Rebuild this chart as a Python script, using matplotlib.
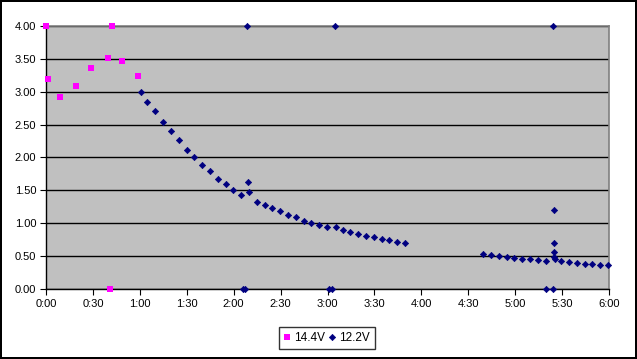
import matplotlib.pyplot as plt
from matplotlib.ticker import FuncFormatter, MultipleLocator

# time in minutes, value
v144_x = [0, 1.3, 9, 19, 29, 39.4, 42, 48.6, 58.6, 41]
v144_y = [4.00, 3.20, 2.92, 3.09, 3.36, 3.51, 4.00, 3.47, 3.24, 0.00]

v122_x = [61, 64.8, 69.9, 75, 80, 85.2, 90.3, 94.8, 99.9, 105, 110.2, 115.3,
          119.8, 124.9, 129.4, 130, 135.1, 140.2, 144.7, 149.8, 155, 160,
          165.2, 169.6, 174.7, 179.9, 185.6, 190.1, 194.6, 199.7, 204.8, 209.9,
          215, 219.5, 224.6, 229.7,
          126, 127.5, 181, 183, 128.7, 185, 324.4,
          279.6, 284.7, 289.8, 294.9, 299.4, 304.5, 309.7, 314.8, 319.9,
          325, 325, 325, 325, 325.7, 329.5, 334.6, 339.7, 344.8, 349.3, 354.4,
          359.5, 319.9, 324.4]
v122_y = [2.99, 2.85, 2.70, 2.54, 2.40, 2.26, 2.12, 2.00, 1.88, 1.79, 1.68, 1.59,
          1.50, 1.43, 1.62, 1.47, 1.33, 1.27, 1.23, 1.18, 1.12, 1.09,
          1.03, 1.00, 0.97, 0.94, 0.95, 0.89, 0.86, 0.83, 0.80, 0.79,
          0.76, 0.74, 0.71, 0.70,
          0.00, 0.00, 0.00, 0.00, 4.00, 4.00, 4.00,
          0.53, 0.51, 0.50, 0.48, 0.47, 0.45, 0.45, 0.44, 0.42,
          1.20, 0.70, 0.56, 0.48, 0.45, 0.42, 0.41, 0.39, 0.38, 0.38, 0.36,
          0.36, 0.00, 0.00]

plt.rcParams["font.family"] = ["Liberation Sans", "DejaVu Sans"]
plt.rcParams["font.size"] = 8

fig = plt.figure(figsize=(6.37, 3.59), dpi=100)
fig.patch.set_facecolor("white")
fig.patch.set_edgecolor("black")
fig.patch.set_linewidth(1.5)

W, H = 637, 359
ax = fig.add_axes([46 / W, 1 - 289 / H, (609 - 46) / W, (289 - 26) / H])
ax.set_facecolor("#C0C0C0")

ax.set_xlim(0, 360)
ax.set_ylim(0, 4)
ax.xaxis.set_major_locator(MultipleLocator(30))
ax.yaxis.set_major_locator(MultipleLocator(0.5))
ax.xaxis.set_major_formatter(FuncFormatter(lambda v, p: f"{int(v) // 60}:{int(v) % 60:02d}"))
ax.yaxis.set_major_formatter(FuncFormatter(lambda v, p: f"{v:.2f}"))
ax.tick_params(direction="out", length=4, width=0.8, color="black", pad=3)

ax.grid(axis="y", color="black", linewidth=1)
ax.set_axisbelow(True)
for side in ["top", "right"]:
    ax.spines[side].set_color("#808080")
    ax.spines[side].set_linewidth(1.2)
for side in ["left", "bottom"]:
    ax.spines[side].set_color("black")
    ax.spines[side].set_linewidth(1)

ax.plot(v144_x, v144_y, "s", color="#FF00FF", markersize=4.4, markeredgewidth=0,
        label="14.4V", clip_on=False, zorder=3)
ax.plot(v122_x, v122_y, "D", color="#000080", markersize=3.2, markeredgewidth=0.5,
        label="12.2V", clip_on=False, zorder=3)

leg = ax.legend(loc="center", bbox_to_anchor=(327 / W, 1 - 338 / H),
                bbox_transform=fig.transFigure, ncol=2, frameon=True, fancybox=False,
                handlelength=0.5, handletextpad=0.3, columnspacing=0.4,
                borderpad=0.45, fontsize=8.5)
leg.get_frame().set_edgecolor("black")
leg.get_frame().set_linewidth(1)

fig.savefig("out.png", dpi=100, facecolor=fig.get_facecolor(), edgecolor=fig.get_edgecolor())
